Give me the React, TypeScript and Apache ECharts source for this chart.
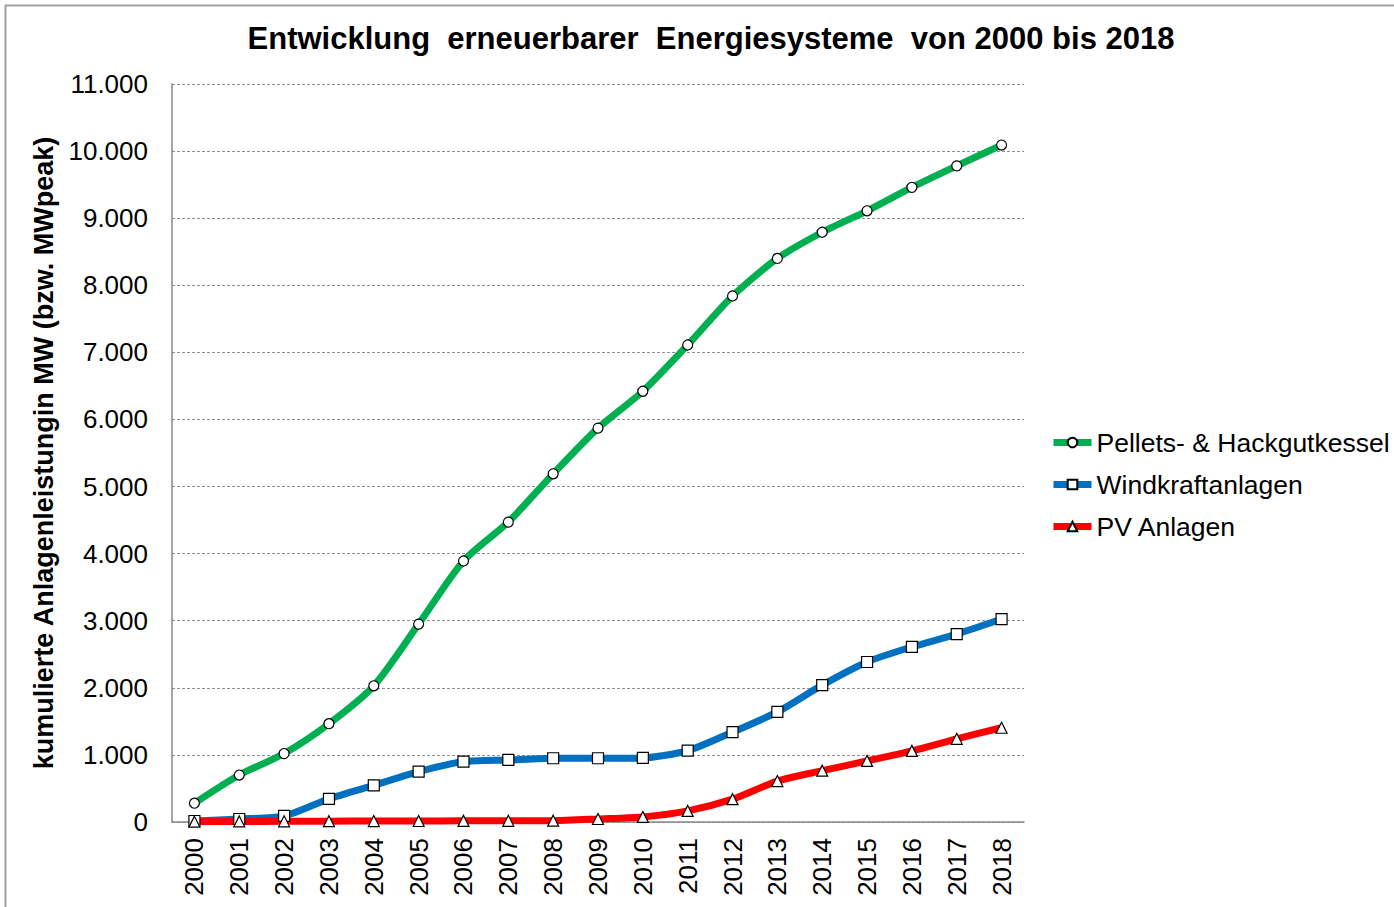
import React, { useEffect, useRef } from "react";
import * as echarts from "echarts";

const years = ["2000","2001","2002","2003","2004","2005","2006","2007","2008","2009","2010","2011","2012","2013","2014","2015","2016","2017","2018"];
const pellets = [280, 700, 1020, 1465, 2030, 2950, 3890, 4470, 5190, 5870, 6420, 7110, 7840, 8400, 8790, 9110, 9460, 9780, 10090];
const wind = [15, 45, 90, 345, 545, 750, 900, 925, 950, 950, 955, 1065, 1340, 1640, 2040, 2385, 2610, 2800, 3025];
const pv = [5, 8, 10, 12, 14, 15, 17, 18, 20, 45, 75, 165, 340, 610, 765, 910, 1060, 1240, 1405];
const seriesNames = ["Pellets- & Hackgutkessel", "Windkraftanlagen", "PV Anlagen"];
const seriesColors = ["#00b050", "#0070c0", "#ff0000"];
const titleText = "Entwicklung  erneuerbarer  Energiesysteme  von 2000 bis 2018";
const yAxisName = "kumulierte Anlagenleistungin MW (bzw. MWpeak)";

const FONT = "'Liberation Sans', Arial, sans-serif";

export default function App() {
  const ref = useRef<HTMLDivElement>(null);
  useEffect(() => {
    if (!ref.current) return;
    const chart = echarts.init(ref.current, null, { renderer: "svg" });
    const mk = (name: string, data: number[], color: string, symbol: string, size: number) => ({
      name,
      type: "line",
      data,
      smooth: 0.25,
      symbol,
      symbolSize: size,
      showAllSymbol: true,
      lineStyle: { color, width: 7 },
      itemStyle: { color: "#ffffff", borderColor: "#000000", borderWidth: 1.2 },
      z: 2,
    });
    chart.setOption({
      animation: false,
      backgroundColor: "#ffffff",
      textStyle: { fontFamily: FONT },
      title: {
        text: titleText,
        left: 706,
        textAlign: "center",
        top: 18,
        textStyle: { fontFamily: FONT, fontWeight: "bold", fontSize: 31, color: "#000" },
      },
      graphic: [
        {
          type: "rect",
          shape: { x: 5.5, y: 5.5, width: 1500, height: 1000 },
          style: { fill: "none", stroke: "#a0a0a0", lineWidth: 2 },
          silent: true,
          z: 0,
        },
      ],
      legend: {
        orient: "vertical",
        left: 1050,
        top: 429,
        padding: 0,
        itemWidth: 38,
        itemHeight: 12,
        itemGap: 15,
        lineStyle: { width: 7 },
        textStyle: { fontFamily: FONT, fontSize: 26.5, color: "#000", lineHeight: 27 },
        data: seriesNames,
      },
      grid: { left: 172, right: 370, top: 84, bottom: 85, containLabel: false },
      xAxis: {
        type: "category",
        data: years,
        boundaryGap: true,
        axisLine: { lineStyle: { color: "#888888", width: 1.5 } },
        axisTick: { show: false },
        axisLabel: { rotate: 90, fontSize: 26, color: "#000", fontFamily: FONT, margin: 16, interval: 0 },
      },
      yAxis: {
        type: "value",
        min: 0,
        max: 11000,
        interval: 1000,
        name: yAxisName,
        nameLocation: "middle",
        nameGap: 113,
        nameTextStyle: { fontFamily: FONT, fontWeight: "bold", fontSize: 27, color: "#000" },
        axisLine: { show: true, lineStyle: { color: "#888888", width: 1.5 } },
        axisTick: { show: false },
        axisLabel: {
          fontSize: 26,
          color: "#000",
          fontFamily: FONT,
          margin: 24,
          formatter: (v: number) => (v >= 1000 ? Math.floor(v / 1000) + "." + String(v % 1000).padStart(3, "0") : String(v)),
        },
        splitLine: { show: true, lineStyle: { color: "#909090", type: [3, 2], width: 1 } },
      },
      series: [
        mk(seriesNames[0], pellets, seriesColors[0], "circle", 10),
        mk(seriesNames[1], wind, seriesColors[1], "rect", 11),
        mk(seriesNames[2], pv, seriesColors[2], "triangle", 11),
      ],
    });
    return () => chart.dispose();
  }, []);
  return <div ref={ref} style={{ position: "absolute", left: 0, top: 0, width: 1394, height: 907 }} />;
}
